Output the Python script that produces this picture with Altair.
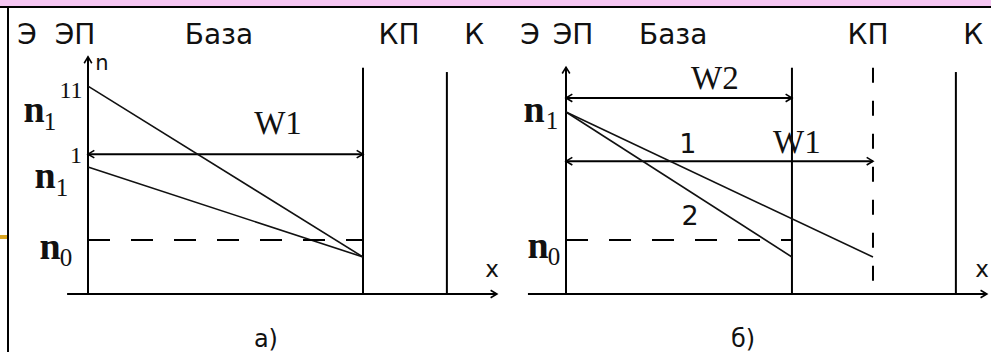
import altair as alt
import pandas as pd

# Minority-carrier (electron) distribution in the base of a transistor.
# x : position in the base, in units of the base width W1
#     (0 = emitter junction ЭП, 1 = collector junction КП)
# y : electron concentration, in units of the equilibrium value n0

SANS = "DejaVu Sans"
SERIF = "Liberation Serif"
PINK = "#f5c6f2"

# ---------------- panel а): two injection levels, same base width ----------
A_X = [-0.32, 1.4618]            # visible x range of the panel
A_K = 1.305                      # collector contact
A_N1 = [3.85, 2.35]              # n1'' and n1' at the emitter junction
A_NEND = 0.685                   # concentration at the collector junction
A_N0 = 1.0
A_W1_LEVEL = 2.59                # height of the W1 dimension line
A_AXIS_X = [-0.076, 1.487]
A_AXIS_TOP = 4.39
A_LINE_TOP = [4.19, 4.11]        # tops of КП and К lines

# ---------------- panel б): same injection, base narrowed to W2 -----------
B_X = [-0.2476, 1.3844]
B_W2 = 0.736
B_K = 1.270
B_N1 = 3.37
B_NEND = 0.685
B_N0 = 1.0
B_W2_LEVEL = 3.63
B_W1_LEVEL = 2.46
B_AXIS_X = [-0.124, 1.371]
B_AXIS_TOP = 4.20
B_LINE_TOP = [4.19, 4.11]

Y_DOM = [-1.074, 5.444]
TOP_ROW = 4.63                   # baseline of the region names

def seg(x, y, x2, y2, kind):
    return dict(x=x, y=y, x2=x2, y2=y2, kind=kind)

a_segs = [
    seg(0, 0, 0, A_AXIS_TOP, "solid"),
    seg(A_AXIS_X[0], 0, A_AXIS_X[1], 0, "solid"),
    seg(1, 0, 1, A_LINE_TOP[0], "solid"),
    seg(A_K, 0, A_K, A_LINE_TOP[1], "solid"),
    seg(0, A_W1_LEVEL, 1, A_W1_LEVEL, "solid"),
    seg(0, A_N1[0], 1, A_NEND, "thin"),
    seg(0, A_N1[1], 1, A_NEND, "thin"),
    seg(0, A_N0, 1, A_N0, "dash_h"),
]
a_heads = [
    dict(x=0, y=A_AXIS_TOP, angle=270),
    dict(x=A_AXIS_X[1], y=0, angle=0),
    dict(x=0, y=A_W1_LEVEL, angle=180),
    dict(x=1, y=A_W1_LEVEL, angle=0),
]
a_text = [
    dict(x=-0.222, y=TOP_ROW, t="Э", st="sans", s=28),
    dict(x=-0.047, y=TOP_ROW, t="ЭП", st="sans", s=28),
    dict(x=0.476, y=TOP_ROW, t="База", st="sans", s=28),
    dict(x=1.131, y=TOP_ROW, t="КП", st="sans", s=28),
    dict(x=1.404, y=TOP_ROW, t="К", st="sans", s=28),
    dict(x=0.051, y=4.15, t="n", st="sans", s=21),
    dict(x=1.469, y=0.315, t="x", st="sans", s=23),
    dict(x=0.647, y=-0.98, t="а)", st="sans", s=24),
    dict(x=0.691, y=2.96, t="W1", st="serif", s=33),
    dict(x=-0.196, y=3.19, t="n", st="bold", s=38),
    dict(x=-0.138, y=3.04, t="1", st="serif", s=25),
    dict(x=-0.062, y=3.63, t="11", st="serif", s=24),
    dict(x=-0.156, y=1.96, t="n", st="bold", s=38),
    dict(x=-0.095, y=1.81, t="1", st="serif", s=25),
    dict(x=-0.044, y=2.43, t="1", st="serif", s=24),
    dict(x=-0.138, y=0.65, t="n", st="bold", s=38),
    dict(x=-0.080, y=0.52, t="0", st="serif", s=25),
]

b_segs = [
    seg(0, 0, 0, B_AXIS_TOP, "solid"),
    seg(B_AXIS_X[0], 0, B_AXIS_X[1], 0, "solid"),
    seg(B_W2, 0, B_W2, B_LINE_TOP[0], "solid"),
    seg(B_K, 0, B_K, B_LINE_TOP[1], "solid"),
    seg(0, B_W2_LEVEL, B_W2, B_W2_LEVEL, "solid"),
    seg(0, B_W1_LEVEL, 1, B_W1_LEVEL, "solid"),
    seg(0, B_N1, 1, B_NEND, "thin"),
    seg(0, B_N1, B_W2, B_NEND, "thin"),
    seg(0, B_N0, B_W2, B_N0, "dash_h"),
    seg(1, B_LINE_TOP[0], 1, 0, "dash_v"),
]
b_heads = [
    dict(x=0, y=B_AXIS_TOP, angle=270),
    dict(x=B_AXIS_X[1], y=0, angle=0),
    dict(x=0, y=B_W2_LEVEL, angle=180),
    dict(x=B_W2, y=B_W2_LEVEL, angle=0),
    dict(x=0, y=B_W1_LEVEL, angle=180),
    dict(x=1, y=B_W1_LEVEL, angle=0),
]
b_text = [
    dict(x=-0.117, y=TOP_ROW, t="Э", st="sans", s=28),
    dict(x=0.023, y=TOP_ROW, t="ЭП", st="sans", s=28),
    dict(x=0.349, y=TOP_ROW, t="База", st="sans", s=28),
    dict(x=0.984, y=TOP_ROW, t="КП", st="sans", s=28),
    dict(x=1.326, y=TOP_ROW, t="К", st="sans", s=28),
    dict(x=1.355, y=0.315, t="x", st="sans", s=23),
    dict(x=0.577, y=-0.98, t="б)", st="sans", s=24),
    dict(x=0.397, y=2.61, t="1", st="sans", s=27),
    dict(x=0.404, y=1.28, t="2", st="sans", s=27),
    dict(x=0.485, y=3.80, t="W2", st="serif", s=33),
    dict(x=0.752, y=2.61, t="W1", st="serif", s=33),
    dict(x=-0.104, y=3.19, t="n", st="bold", s=38),
    dict(x=-0.046, y=3.06, t="1", st="serif", s=25),
    dict(x=-0.091, y=0.667, t="n", st="bold", s=38),
    dict(x=-0.039, y=0.54, t="0", st="serif", s=25),
]

CHEVRON = "M-1,-0.6L0,0L-1,0.6"
ONE = pd.DataFrame({"k": [0]})


def panel(xdom, segs, heads, texts, width, left_edge):
    xs = alt.Scale(domain=xdom, nice=False, zero=False)
    ys = alt.Scale(domain=Y_DOM, nice=False, zero=False)
    X = lambda f: alt.X(f, type="quantitative", scale=xs, axis=None)
    Y = lambda f: alt.Y(f, type="quantitative", scale=ys, axis=None)

    sd = alt.Chart(pd.DataFrame(segs))
    enc = dict(x=X("x"), y=Y("y"), x2="x2", y2="y2")
    layers = [
        alt.Chart(ONE).mark_rect(color=PINK).encode(
            x=alt.value(0), x2=alt.value(width), y=alt.value(0), y2=alt.value(6)),
        alt.Chart(ONE).mark_rect(color="black").encode(
            x=alt.value(0), x2=alt.value(width), y=alt.value(6), y2=alt.value(8)),
        sd.mark_rule(color="black", strokeWidth=2).encode(**enc)
          .transform_filter("datum.kind == 'solid'"),
        sd.mark_rule(color="#111", strokeWidth=1.6).encode(**enc)
          .transform_filter("datum.kind == 'thin'"),
        sd.mark_rule(color="black", strokeWidth=2, strokeDash=[22, 21]).encode(**enc)
          .transform_filter("datum.kind == 'dash_h'"),
        sd.mark_rule(color="black", strokeWidth=2, strokeDash=[15, 18]).encode(**enc)
          .transform_filter("datum.kind == 'dash_v'"),
        alt.Chart(pd.DataFrame(heads)).mark_point(
            shape=CHEVRON, filled=False, color="black", strokeWidth=1.6,
            size=160, opacity=1).encode(
            x=X("x"), y=Y("y"), angle=alt.Angle("angle:Q", scale=None)),
    ]
    td = alt.Chart(pd.DataFrame(texts))
    for st, font, weight in [("sans", SANS, "normal"), ("serif", SERIF, "normal"),
                             ("bold", SERIF, "bold")]:
        layers.append(
            td.mark_text(font=font, fontWeight=weight, color="#111",
                         align="center", baseline="alphabetic")
              .encode(x=X("x"), y=Y("y"), text="t:N",
                      size=alt.Size("s:Q", scale=None))
              .transform_filter(f"datum.st == '{st}'"))
    if left_edge:
        layers += [
            alt.Chart(ONE).mark_rect(color="black").encode(
                x=alt.value(7), x2=alt.value(9), y=alt.value(6), y2=alt.value(352)),
            alt.Chart(ONE).mark_rect(color="#d9a521").encode(
                x=alt.value(0), x2=alt.value(7), y=alt.value(235), y2=alt.value(239)),
        ]
    return alt.layer(*layers).properties(width=width, height=352)


pa = panel(A_X, a_segs, a_heads, a_text, 490, True)
pb = panel(B_X, b_segs, b_heads, b_text, 501, False)

chart = (
    alt.hconcat(pa, pb, spacing=0, bounds="flush")
    .properties(padding=0, background="white")
    .configure_view(stroke=None)
)

chart.save("out.html", embed_options={"renderer": "svg", "actions": False})
